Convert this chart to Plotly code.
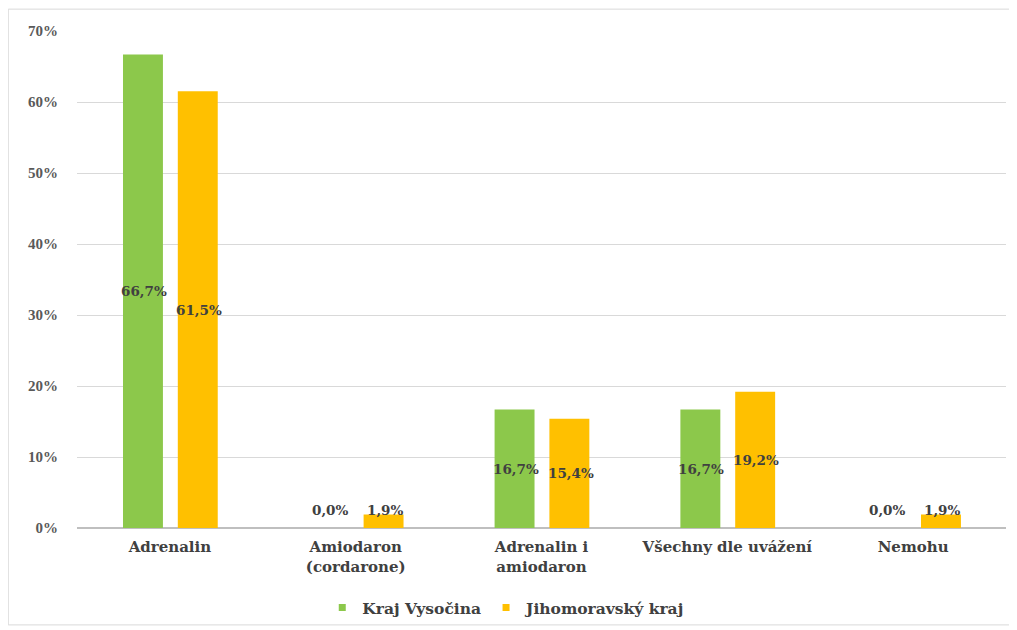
import plotly.graph_objects as go

categories = ["Adrenalin", "Amiodaron<br>(cordarone)", "Adrenalin i<br>amiodaron", "Všechny dle uvážení", "Nemohu"]
vysocina = [66.7, 0.0, 16.7, 16.7, 0.0]
jihomoravsky = [61.5, 1.9, 15.4, 19.2, 1.9]
series_names = ["Kraj Vysočina", "Jihomoravský kraj"]
colors = ["#8CC84B", "#FFC000"]
tick_vals = [0, 10, 20, 30, 40, 50, 60, 70]
tick_text = ["0%", "10%", "20%", "30%", "40%", "50%", "60%", "70%"]

W = 0.215
offsets = [-0.145 - W / 2, 0.150 - W / 2]
xshifts = [-26, 29]
serif_wide = "DejaVu Serif"
serif = "Liberation Serif"

fig = go.Figure()
for name, vals, col, off in zip(series_names, [vysocina, jihomoravsky], colors, offsets):
    fig.add_trace(go.Bar(x=categories, y=vals, name=name, marker_color=col,
                         width=W, offset=off, marker_line_width=0, showlegend=False))
# legend entries with small square markers
for name, col in zip(series_names, colors):
    fig.add_trace(go.Scatter(x=[None], y=[None], mode="markers", name=name,
                             marker=dict(symbol="square", size=7, color=col)))

annotations = []
for vals, xs in zip([vysocina, jihomoravsky], xshifts):
    for c, v in zip(categories, vals):
        annotations.append(dict(x=c, y=max(v / 2, 2.5), xref="x", yref="y", xshift=xs,
                                text=f"{v:.1f}%".replace(".", ","), showarrow=False,
                                font=dict(family=serif_wide, size=13.5, color="#404040", weight="bold")))

fig.update_layout(
    width=1009, height=622,
    margin=dict(l=69, r=11, t=23, b=102, autoexpand=False),
    paper_bgcolor="white", plot_bgcolor="white",
    barmode="overlay",
    showlegend=True,
    legend=dict(orientation="h", x=0.264, xanchor="left", y=-0.161, yanchor="middle",
                bgcolor="rgba(0,0,0,0)",
                font=dict(family=serif_wide, size=15.5, color="#404040", weight="bold"),
                itemwidth=30, traceorder="normal"),
    annotations=annotations,
    shapes=[dict(type="rect", xref="paper", yref="paper", x0=-0.074, x1=1.007, y0=-0.195, y1=1.044,
                 line=dict(color="#D9D9D9", width=1), fillcolor="rgba(0,0,0,0)", layer="below")],
    font=dict(family=serif_wide),
)
fig.update_yaxes(range=[0, 70], tickvals=tick_vals, ticktext=tick_text, showgrid=True,
                 gridcolor="#D9D9D9", gridwidth=1, zeroline=True, zerolinecolor="#BFBFBF",
                 ticklabelstandoff=18, automargin=False,
                 tickfont=dict(family=serif, size=15, color="#595959", weight="bold"))
fig.update_xaxes(showgrid=False, showline=False, ticks="", ticklabelstandoff=8, automargin=False,
                 tickfont=dict(family=serif_wide, size=15, color="#404040", weight="bold"))

fig.write_html("out.html")
